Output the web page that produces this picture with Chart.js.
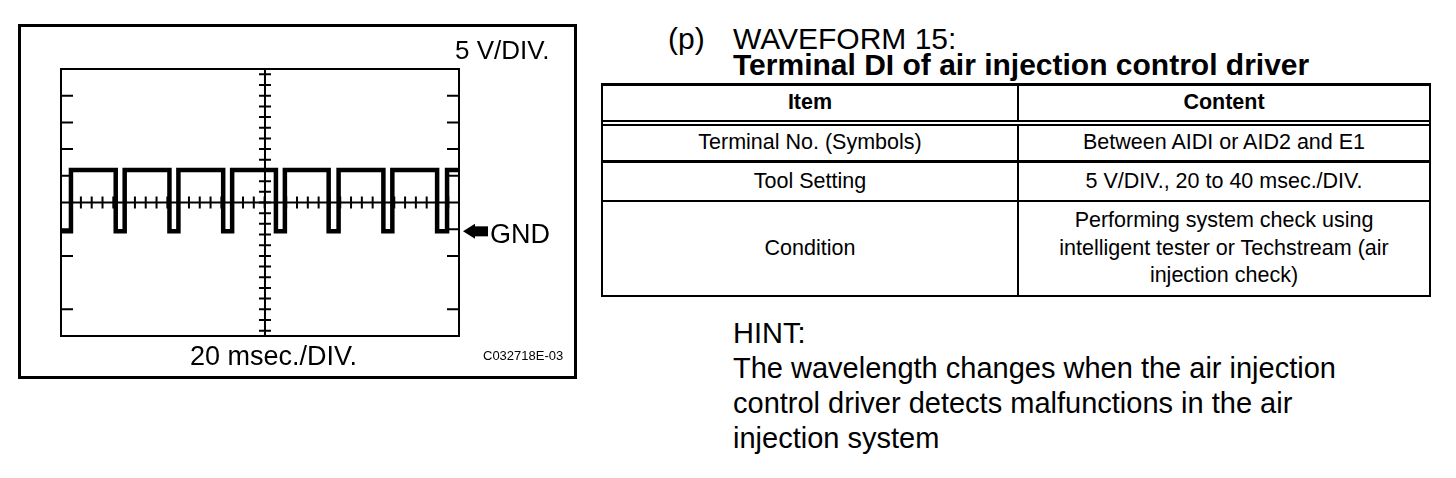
<!DOCTYPE html>
<html lang="en">
<head>
<meta charset="UTF-8">
<title>Waveform 15 - Terminal DI of air injection control driver</title>
<script src="https://cdn.jsdelivr.net/npm/chart.js"></script>
<style>
  body { margin: 0; background: #fff; color: #000; font-family: "Liberation Sans", Arial, sans-serif; }
  #page { position: relative; width: 1456px; height: 478px; overflow: hidden; }
  #scope { position: absolute; left: 0; top: 0; }
  .txt { position: absolute; white-space: nowrap; line-height: 1; }
  .big { font-size: 30px; }
  .bold { font-weight: bold; }

  #tbl { position: absolute; left: 601px; top: 83px; width: 830px; box-sizing: border-box;
         border: 2px solid #000; border-top-width: 3px; font-size: 21.5px; }
  .row { display: flex; box-sizing: border-box; }
  .cell { display: flex; align-items: center; justify-content: center; text-align: center; box-sizing: border-box; line-height: 27.5px; }
  .c1 { width: 416px; border-right: 2px solid #000; }
  .c2 { flex: 1; }
  .r0 { height: 40px; border-bottom: 6px double #000; font-weight: bold; }
  .r1 { height: 37px; border-bottom: 3px solid #000; }
  .r2 { height: 39px; border-bottom: 2px solid #000; }
  .r3 { height: 93px; }

  #hint { position: absolute; left: 733px; top: 316px; font-size: 29px; line-height: 35px; white-space: nowrap; }
</style>
</head>
<body>
<div id="page">
  <canvas id="scope" width="600" height="400"></canvas>

  <div class="txt big" style="left:668px; top:24px;">(p)</div>
  <div class="txt big" style="left:733px; top:24px;">WAVEFORM 15:</div>
  <div class="txt big bold" style="left:733px; top:50px;">Terminal DI of air injection control driver</div>

  <div id="tbl">
    <div class="row r0"><div class="cell c1">Item</div><div class="cell c2">Content</div></div>
    <div class="row r1"><div class="cell c1">Terminal No. (Symbols)</div><div class="cell c2">Between AIDI or AID2 and E1</div></div>
    <div class="row r2"><div class="cell c1">Tool Setting</div><div class="cell c2">5 V/DIV., 20 to 40 msec./DIV.</div></div>
    <div class="row r3"><div class="cell c1">Condition</div><div class="cell c2">Performing system check using<br>intelligent tester or Techstream (air<br>injection check)</div></div>
  </div>

  <div id="hint">HINT:<br>The wavelength changes when the air injection<br>control driver detects malfunctions in the air<br>injection system</div>
</div>

<script>
// scope settings
const MS_PER_DIV = 20;
const VOLTS_PER_DIV = 5;
const DIVS_X = 10;
const DIVS_Y = 10;
// GND marker sits a bit more than one division under the screen centre
const VOLT_MIN = -19.6;
const VOLT_MAX = 30.4;

// trace (edge times in msec, level in V)
const timeMs = [0, 5, 5, 27.5, 27.5, 32, 32, 54.5, 54.5, 59, 59, 81.5, 81.5, 86, 86, 108,
                108, 112.5, 112.5, 134.5, 134.5, 139.5, 139.5, 162, 162, 166.5, 166.5, 189, 189, 194, 194, 200];
const volts = [0, 0, 11.5, 11.5, 0, 0, 11.5, 11.5, 0, 0, 11.5, 11.5, 0, 0, 11.5, 11.5,
               0, 0, 11.5, 11.5, 0, 0, 11.5, 11.5, 0, 0, 11.5, 11.5, 0, 0, 11.5, 11.5];

// graticule marks
const edgeDivs = [1, 2, 3, 4, 6, 7, 9];   // division ticks on left/right edge, counted from top
const cursorMs = 102.5;                   // vertical centre axis
const hMinorStart = 10, hMinorStep = 5.43;

const FONT = '"Liberation Sans", Arial, sans-serif';

const scopePlugin = {
  id: 'scope',
  beforeDatasetsDraw(chart) {
    const { ctx, chartArea: a, scales: { x, y } } = chart;
    ctx.save();
    ctx.strokeStyle = '#000';
    ctx.fillStyle = '#000';

    // outer frame
    ctx.lineWidth = 3;
    ctx.strokeRect(19.5, 25.5, 556, 352);

    // screen frame
    ctx.lineWidth = 2;
    ctx.strokeRect(a.left, a.top, a.width, a.height);

    // division ticks on the side edges
    ctx.beginPath();
    edgeDivs.forEach(d => {
      const py = y.getPixelForValue(VOLT_MAX - d * VOLTS_PER_DIV);
      ctx.moveTo(a.left, py); ctx.lineTo(a.left + 12, py);
      ctx.moveTo(a.right, py); ctx.lineTo(a.right - 12, py);
    });
    ctx.stroke();

    // centre axes
    const cy = y.getPixelForValue(VOLT_MAX - DIVS_Y / 2 * VOLTS_PER_DIV);
    const cx = x.getPixelForValue(cursorMs);
    ctx.beginPath();
    ctx.moveTo(a.left, cy); ctx.lineTo(a.right, cy);
    ctx.moveTo(cx, a.top); ctx.lineTo(cx, a.bottom);
    ctx.stroke();

    // minor ticks
    ctx.beginPath();
    for (let k = 0; k < DIVS_Y * 2.5; k++) {
      const py = y.getPixelForValue(VOLT_MAX - (0.2 + 0.4 * k) * VOLTS_PER_DIV);
      ctx.moveTo(cx - 6, py); ctx.lineTo(cx + 6, py);
    }
    for (let t = hMinorStart; t < DIVS_X * MS_PER_DIV; t += hMinorStep) {
      const px = x.getPixelForValue(t);
      ctx.moveTo(px, cy - 6); ctx.lineTo(px, cy + 6);
    }
    ctx.stroke();
    ctx.restore();
  },
  afterDraw(chart) {
    const { ctx, chartArea: a, scales: { y } } = chart;
    ctx.save();
    ctx.fillStyle = '#000';

    // GND arrow
    const gy = y.getPixelForValue(0);
    const ax = a.right + 4;
    ctx.beginPath();
    ctx.moveTo(ax, gy);
    ctx.lineTo(ax + 12, gy - 7.5);
    ctx.lineTo(ax + 12, gy + 7.5);
    ctx.closePath();
    ctx.fill();
    ctx.fillRect(ax + 10, gy - 5, 15, 10);

    ctx.textBaseline = 'alphabetic';
    ctx.font = '26px ' + FONT;
    ctx.fillText('5 V/DIV.', 455, 59);
    ctx.font = '27px ' + FONT;
    ctx.fillText('GND', 490, 243);
    ctx.fillText('20 msec./DIV.', 190, 365);
    ctx.font = '13px ' + FONT;
    ctx.fillText('C032718E-03', 483, 360);
    ctx.restore();
  }
};

new Chart(document.getElementById('scope'), {
  type: 'line',
  data: {
    datasets: [{
      data: timeMs.map((t, i) => ({ x: t, y: volts[i] })),
      borderColor: '#000',
      borderWidth: 4.5,
      borderJoinStyle: 'miter',
      pointRadius: 0,
      tension: 0,
      fill: false
    }]
  },
  options: {
    responsive: false,
    animation: false,
    devicePixelRatio: 1,
    layout: { padding: { left: 61, top: 69, right: 141, bottom: 64 } },
    plugins: { legend: { display: false }, tooltip: { enabled: false } },
    scales: {
      x: { type: 'linear', min: 0, max: DIVS_X * MS_PER_DIV, display: false },
      y: { min: VOLT_MIN, max: VOLT_MAX, display: false }
    }
  },
  plugins: [scopePlugin]
});
</script>
</body>
</html>
